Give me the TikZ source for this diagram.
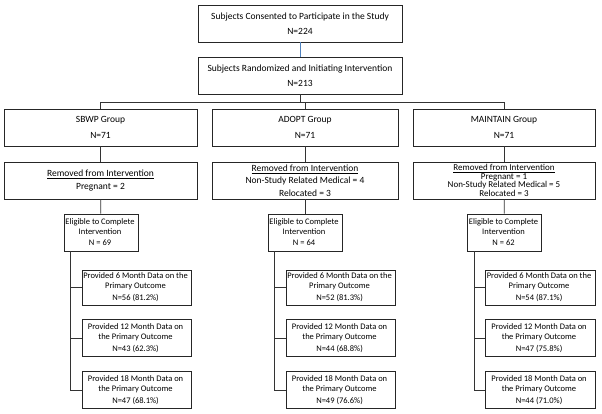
\documentclass[tikz,border=0pt]{standalone}
\usepackage{fontspec}
\setmainfont{Carlito}
\usepackage{tikz}

\definecolor{linkblue}{RGB}{79,129,189}

\begin{document}
\begin{tikzpicture}[x=1pt, y=-1pt,
    box/.style={draw=black!85, rectangle, align=center, fill=white, inner sep=1pt, line width=0.8pt, font=\fontsize{9.5}{11}\selectfont},
    smallbox/.style={box, font=\fontsize{8.5}{10}\selectfont},
    link/.style={draw=black!80, line width=0.8pt}]
\useasboundingbox (0,0) rectangle (602,414);

% Box for Consented Subjects
\node[box, minimum width=204pt, minimum height=37pt] (Consented) at (300,23.5) {
    Subjects Consented to Participate in the Study\\[4.5pt]
    N=224
};
% Box for Randomized Subjects
\node[box, minimum width=204pt, minimum height=37pt] (Randomized) at (300,75.5) {
    Subjects Randomized and Initiating Intervention\\[4.5pt]
    N=213
};

% Group Boxes
\node[box, minimum width=193pt, minimum height=37pt] (SBWP) at (100.5,127.5) {
    SBWP Group\\[4.5pt]
    N=71
};
\node[box, minimum width=186pt, minimum height=37pt] (ADOPT) at (305,127.5) {
    ADOPT Group\\[4.5pt]
    N=71
};
\node[box, minimum width=182pt, minimum height=37pt] (MAINTAIN) at (504,127.5) {
    MAINTAIN Group\\[4.5pt]
    N=71
};

% Removed Boxes
\node[box, minimum width=193pt, minimum height=37pt] (SBWPRemoved) at (100.5,180.5) {
    \underline{Removed from Intervention}\\[2.5pt]
    Pregnant = 2
};
\node[box, minimum width=186pt, minimum height=37pt] (ADOPTRemoved) at (305,180.5) {
    \underline{Removed from Intervention}\\[1.5pt]
    Non-Study Related Medical = 4\\[1.5pt]
    Relocated = 3
};
\node[box, minimum width=182pt, minimum height=37pt, font=\fontsize{9}{8.6}\selectfont] (MAINTAINRemoved) at (504,180.5) {
    \underline{Removed from Intervention}\\[0pt]
    Pregnant = 1\\[0pt]
    Non-Study Related Medical = 5\\[0pt]
    Relocated = 3
};

% Eligible Boxes
\node[smallbox, minimum width=74pt, minimum height=37pt] (SBWPEligible) at (101,232.5) {
    \begin{tabular}{@{}c@{}}
    Eligible to Complete\\
    Intervention\\[1pt]
    N = 69
    \end{tabular}
};
\node[smallbox, minimum width=74pt, minimum height=37pt] (ADOPTEligible) at (305,232.5) {
    \begin{tabular}{@{}c@{}}
    Eligible to Complete\\
    Intervention\\[1pt]
    N = 64
    \end{tabular}
};
\node[smallbox, minimum width=74pt, minimum height=37pt] (MAINTAINEligible) at (504.5,232.5) {
    \begin{tabular}{@{}c@{}}
    Eligible to Complete\\
    Intervention\\[1pt]
    N = 62
    \end{tabular}
};

% Outcome Boxes for SBWP
\node[smallbox, minimum width=109pt, minimum height=35pt] (SBWPMonth6) at (136.5,287.5) {
    \begin{tabular}{@{}c@{}}
    Provided 6 Month Data on the\\
    Primary Outcome\\[2pt]
    N=56 (81.2\%)
    \end{tabular}
};
\node[smallbox, minimum width=109pt, minimum height=37pt] (SBWPMonth12) at (136.5,338) {
    \begin{tabular}{@{}c@{}}
    Provided 12 Month Data on\\
    the Primary Outcome\\[2pt]
    N=43 (62.3\%)
    \end{tabular}
};
\node[smallbox, minimum width=109pt, minimum height=37pt] (SBWPMonth18) at (136.5,390) {
    \begin{tabular}{@{}c@{}}
    Provided 18 Month Data on\\
    the Primary Outcome\\[2pt]
    N=47 (68.1\%)
    \end{tabular}
};

% Outcome Boxes for ADOPT
\node[smallbox, minimum width=109pt, minimum height=35pt] (ADOPTMonth6) at (340.5,287.5) {
    \begin{tabular}{@{}c@{}}
    Provided 6 Month Data on the\\
    Primary Outcome\\[2pt]
    N=52 (81.3\%)
    \end{tabular}
};
\node[smallbox, minimum width=109pt, minimum height=37pt] (ADOPTMonth12) at (340.5,338) {
    \begin{tabular}{@{}c@{}}
    Provided 12 Month Data on\\
    the Primary Outcome\\[2pt]
    N=44 (68.8\%)
    \end{tabular}
};
\node[smallbox, minimum width=109pt, minimum height=37pt] (ADOPTMonth18) at (340.5,390) {
    \begin{tabular}{@{}c@{}}
    Provided 18 Month Data on\\
    the Primary Outcome\\[2pt]
    N=49 (76.6\%)
    \end{tabular}
};

% Outcome Boxes for MAINTAIN
\node[smallbox, minimum width=110pt, minimum height=35pt] (MAINTAINMonth6) at (540,287.5) {
    \begin{tabular}{@{}c@{}}
    Provided 6 Month Data on the\\
    Primary Outcome\\[2pt]
    N=54 (87.1\%)
    \end{tabular}
};
\node[smallbox, minimum width=110pt, minimum height=37pt] (MAINTAINMonth12) at (540,338) {
    \begin{tabular}{@{}c@{}}
    Provided 12 Month Data on\\
    the Primary Outcome\\[2pt]
    N=47 (75.8\%)
    \end{tabular}
};
\node[smallbox, minimum width=110pt, minimum height=37pt] (MAINTAINMonth18) at (540,390) {
    \begin{tabular}{@{}c@{}}
    Provided 18 Month Data on\\
    the Primary Outcome\\[2pt]
    N=44 (71.0\%)
    \end{tabular}
};

% Connectors at the top
\draw[link, draw=linkblue] (Consented) -- (Randomized);
\draw[link] (Randomized.south) -- ++(0,8) -| (SBWP.north);
\draw[link] (Randomized.south) -- ++(0,8) -| (ADOPT.north);
\draw[link] (Randomized.south) -- ++(0,8) -| (MAINTAIN.north);

% Connectors down each group
\draw[link] (SBWP) -- (SBWPRemoved);
\draw[link] (SBWPRemoved) -- (SBWPEligible);
\draw[link] (ADOPT) -- (ADOPTRemoved);
\draw[link] (ADOPTRemoved) -- (ADOPTEligible);
\draw[link] (MAINTAIN) -- (MAINTAINRemoved);
\draw[link] (MAINTAINRemoved) -- (MAINTAINEligible);

% Trunks to the outcome boxes
\coordinate (SBWPTrunk) at ([xshift=7pt]SBWPEligible.south west);
\draw[link] (SBWPTrunk) |- (SBWPMonth18.west);
\draw[link] (SBWPTrunk |- SBWPMonth6.west) -- (SBWPMonth6.west);
\draw[link] (SBWPTrunk |- SBWPMonth12.west) -- (SBWPMonth12.west);

\coordinate (ADOPTTrunk) at ([xshift=7pt]ADOPTEligible.south west);
\draw[link] (ADOPTTrunk) |- (ADOPTMonth18.west);
\draw[link] (ADOPTTrunk |- ADOPTMonth6.west) -- (ADOPTMonth6.west);
\draw[link] (ADOPTTrunk |- ADOPTMonth12.west) -- (ADOPTMonth12.west);

\coordinate (MAINTAINTrunk) at ([xshift=7pt]MAINTAINEligible.south west);
\draw[link] (MAINTAINTrunk) |- (MAINTAINMonth18.west);
\draw[link] (MAINTAINTrunk |- MAINTAINMonth6.west) -- (MAINTAINMonth6.west);
\draw[link] (MAINTAINTrunk |- MAINTAINMonth12.west) -- (MAINTAINMonth12.west);

\end{tikzpicture}
\end{document}
